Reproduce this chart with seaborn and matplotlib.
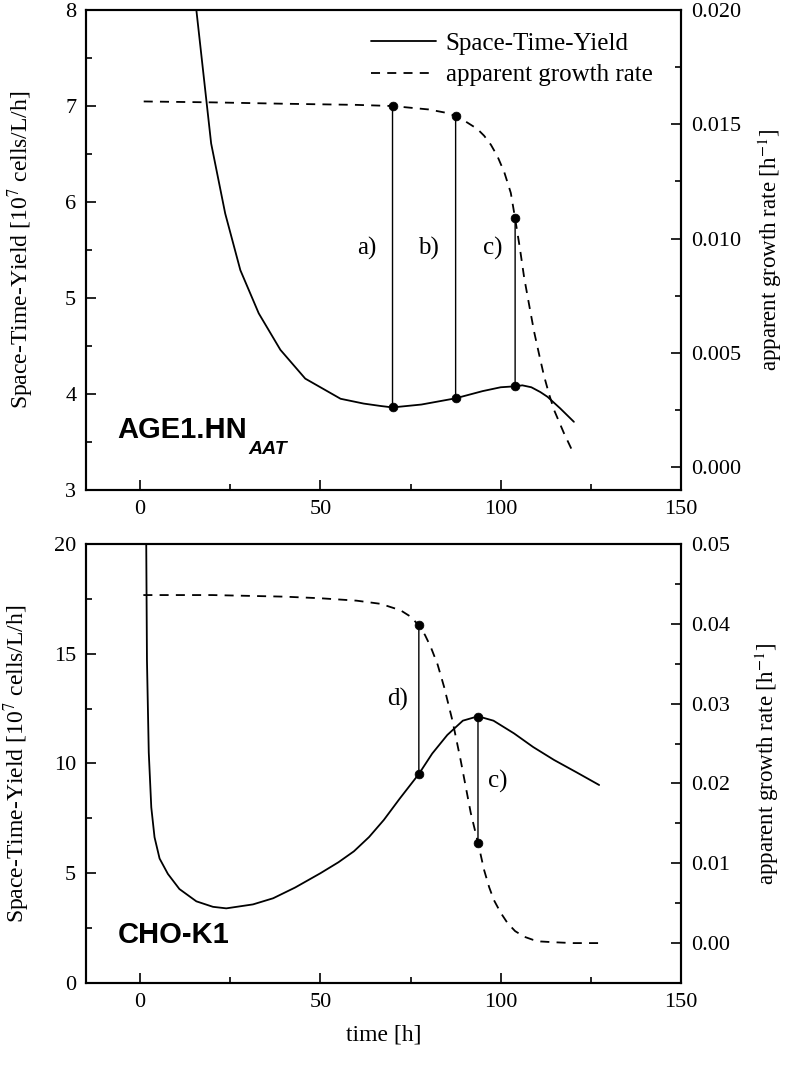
import matplotlib
matplotlib.use("Agg")
import matplotlib.pyplot as plt
from matplotlib.patches import ConnectionPatch
from matplotlib.ticker import MultipleLocator
import seaborn as sns

# AGE1.HN.AAT panel: space-time-yield (left axis) and apparent growth rate (right axis)
age_t_sty = [15.6, 19.7, 23.6, 27.8, 32.9, 38.9, 45.8, 55.6, 62.0, 66.7, 70.0,
             78.0, 87.5, 95.0, 100.0, 104.0, 106.0, 108.5, 111.0, 113.0, 116.5, 120.3]
age_sty = [8.00, 6.61, 5.88, 5.29, 4.84, 4.46, 4.16, 3.95, 3.90, 3.875, 3.86,
           3.89, 3.955, 4.03, 4.07, 4.08, 4.09, 4.07, 4.02, 3.97, 3.85, 3.71]
age_t_mu = [1.0, 20.0, 40.0, 60.0, 70.0, 80.0, 85.0, 87.5, 89.5, 91.5, 93.5, 95.4,
            97.3, 99.1, 101.0, 102.8, 104.0, 105.3, 106.5, 108.0, 109.3, 110.7,
            112.0, 113.4, 114.8, 117.5, 120.2]
age_mu = [0.0160, 0.01596, 0.0159, 0.01585, 0.0158, 0.01565, 0.0155, 0.01536,
          0.0152, 0.0150, 0.0148, 0.0145, 0.0141, 0.0136, 0.0129, 0.0120, 0.01088,
          0.0096, 0.0083, 0.0070, 0.0059, 0.0049, 0.0040, 0.0032, 0.0025, 0.0015,
          0.0006]
age_mark_t = [70.0, 87.5, 104.0]
age_mark_sty = [3.86, 3.955, 4.08]
age_mark_mu = [0.0158, 0.01536, 0.01088]
age_mark_lbl = ["a)", "b)", "c)"]
age_lbl_x = [63.0, 80.1, 97.7]
age_lbl_y = [5.52, 5.52, 5.52]

# CHO-K1 panel
cho_t_sty = [1.7, 1.9, 2.4, 3.1, 4.0, 5.4, 7.7, 10.9, 15.6, 20.2, 23.9, 31.3, 36.9,
             43.0, 50.0, 55.0, 59.3, 63.5, 67.6, 72.0, 77.3, 81.0, 85.2, 89.5,
             93.7, 98.0, 103.7, 109.0, 114.8, 121.0, 127.3]
cho_sty = [20.0, 14.7, 10.5, 8.0, 6.64, 5.67, 4.97, 4.28, 3.72, 3.47, 3.40, 3.58,
           3.86, 4.35, 5.0, 5.5, 6.0, 6.65, 7.43, 8.4, 9.52, 10.45, 11.3, 11.95,
           12.15, 11.95, 11.37, 10.75, 10.16, 9.6, 9.02]
cho_t_mu = [0.9, 20.0, 40.0, 50.0, 60.0, 66.7, 72.2, 75.0, 77.3, 79.0, 80.6, 82.5,
            84.3, 86.6, 88.9, 90.3, 91.7, 93.7, 95.4, 96.8, 98.1, 100.0, 101.9,
            104.0, 106.5, 109.0, 111.1, 115.0, 120.0, 127.3]
cho_mu = [0.0436, 0.0436, 0.0434, 0.0432, 0.0429, 0.0425, 0.0417, 0.0409, 0.0398,
          0.0386, 0.0371, 0.0349, 0.0321, 0.0279, 0.0229, 0.0196, 0.0163, 0.01257,
          0.00915, 0.0070, 0.0054, 0.0038, 0.0025, 0.0015, 0.0008, 0.0004, 0.0002,
          0.0001, 0.0, 0.0]
cho_mark_t = [77.3, 93.7]
cho_mark_sty = [9.52, 12.13]
cho_mark_mu = [0.0398, 0.01257]
cho_mark_lbl = ["d)", "c)"]
cho_lbl_x = [71.3, 99.1]
cho_lbl_y = [12.9, 9.17]

sns.set_style("ticks")
plt.rcParams["font.family"] = ["Liberation Serif", "DejaVu Serif"]
plt.rcParams["mathtext.fontset"] = "stix"
for key in ["text.color", "axes.labelcolor", "xtick.color", "ytick.color", "axes.edgecolor"]:
    plt.rcParams[key] = "black"

TICK_FS = 16
LABEL_FS = 17
ANN_FS = 18
DASH = (0, (5, 4))


def setup_axes(ax, ax2, ylim, ymajor, yminor, ylim2, ymajor2, yminor2, fmt2, lx, rx):
    ax.set_xlim(-15, 150)
    ax.set_ylim(*ylim)
    ax2.set_ylim(*ylim2)
    ax.xaxis.set_major_locator(MultipleLocator(50))
    ax.xaxis.set_minor_locator(MultipleLocator(25))
    ax.yaxis.set_major_locator(MultipleLocator(ymajor))
    ax.yaxis.set_minor_locator(MultipleLocator(yminor))
    ax2.yaxis.set_major_locator(MultipleLocator(ymajor2))
    ax2.yaxis.set_minor_locator(MultipleLocator(yminor2))
    ax2.yaxis.set_major_formatter(plt.FormatStrFormatter(fmt2))
    ax.tick_params(which="both", direction="in", left=True, bottom=True,
                   right=False, top=False, labelsize=TICK_FS, pad=7, width=1.2)
    ax.tick_params(which="major", length=7)
    ax.tick_params(which="minor", length=4)
    ax2.tick_params(which="both", direction="in", right=True, left=False,
                    labelsize=TICK_FS, pad=7, width=1.2)
    ax2.tick_params(which="major", length=7)
    ax2.tick_params(which="minor", length=4)
    for a in (ax, ax2):
        for sp in a.spines.values():
            sp.set_visible(True)
            sp.set_linewidth(1.5)
            sp.set_color("black")
    ax.set_ylabel("Space-Time-Yield [10$^{7}$ cells/L/h]", fontsize=LABEL_FS)
    ax2.set_ylabel("apparent growth rate [h$^{-1}$]", fontsize=16.5)
    ax.yaxis.set_label_coords(lx, 0.5)
    ax2.yaxis.set_label_coords(rx, 0.5)
    ax.grid(False)
    ax2.grid(False)


def draw_panel(ax, ax2, t_sty, sty, t_mu, mu, mt, msty, mmu, lbl, lx, ly):
    sns.lineplot(x=t_sty, y=sty, ax=ax, color="black", linewidth=1.3,
                 label="Space-Time-Yield", legend=False)
    sns.lineplot(x=t_mu, y=mu, ax=ax2, color="black", linewidth=1.3,
                 linestyle=DASH, label="apparent growth rate", legend=False)
    # vertical connectors between the two curves
    for x, s, m in zip(mt, msty, mmu):
        con = ConnectionPatch(xyA=(x, s), coordsA=ax.transData,
                              xyB=(x, m), coordsB=ax2.transData,
                              color="black", linewidth=1.0, zorder=3)
        ax2.add_artist(con)
    sns.scatterplot(x=mt, y=msty, ax=ax, color="black", s=40, edgecolor="black",
                    zorder=4, legend=False)
    sns.scatterplot(x=mt, y=mmu, ax=ax2, color="black", s=40, edgecolor="black",
                    zorder=4, legend=False)
    for s, x, y in zip(lbl, lx, ly):
        ax.text(x, y, s, fontsize=ANN_FS, ha="center", va="center")


fig = plt.figure(figsize=(7.87, 10.91), dpi=100)
ax_top = fig.add_axes([0.1093, 0.5509, 0.7560, 0.4399])
ax_top2 = ax_top.twinx()
ax_bot = fig.add_axes([0.1093, 0.0990, 0.7560, 0.4024])
ax_bot2 = ax_bot.twinx()

draw_panel(ax_top, ax_top2, age_t_sty, age_sty, age_t_mu, age_mu, age_mark_t,
           age_mark_sty, age_mark_mu, age_mark_lbl, age_lbl_x, age_lbl_y)
setup_axes(ax_top, ax_top2, (3, 8), 1, 0.5, (-0.001, 0.020), 0.005, 0.0025, "%.3f",
           -0.0835, 1.125)

draw_panel(ax_bot, ax_bot2, cho_t_sty, cho_sty, cho_t_mu, cho_mu, cho_mark_t,
           cho_mark_sty, cho_mark_mu, cho_mark_lbl, cho_lbl_x, cho_lbl_y)
setup_axes(ax_bot, ax_bot2, (0, 20), 5, 2.5, (-0.005, 0.05), 0.01, 0.005, "%.2f",
           -0.091, 1.12)
ax_bot.set_xlabel("time [h]", fontsize=LABEL_FS, labelpad=9)

# legend only in the top panel
h1, l1 = ax_top.get_legend_handles_labels()
h2, l2 = ax_top2.get_legend_handles_labels()
ax_top2.legend(h1 + h2, l1 + l2, loc="upper right", bbox_to_anchor=(0.99, 1.0),
               frameon=False, fontsize=ANN_FS, handlelength=2.6, handletextpad=0.4,
               labelspacing=0.35)

# cell line names
t1 = ax_top.text(0.052, 0.108, "AGE1.HN", transform=ax_top.transAxes,
                 fontsize=21, fontweight="bold", family="Liberation Sans",
                 ha="left", va="baseline")
ax_top.annotate("AAT", xy=(1, 0), xycoords=t1, xytext=(1, 2),
                textcoords="offset points", fontsize=14, fontweight="bold",
                fontstyle="italic", family="Liberation Sans", ha="left", va="top")
ax_bot.text(0.054, 0.091, "CHO-K1", transform=ax_bot.transAxes,
            fontsize=21, fontweight="bold", family="Liberation Sans",
            ha="left", va="baseline")

fig.savefig("out.png", dpi=100)
